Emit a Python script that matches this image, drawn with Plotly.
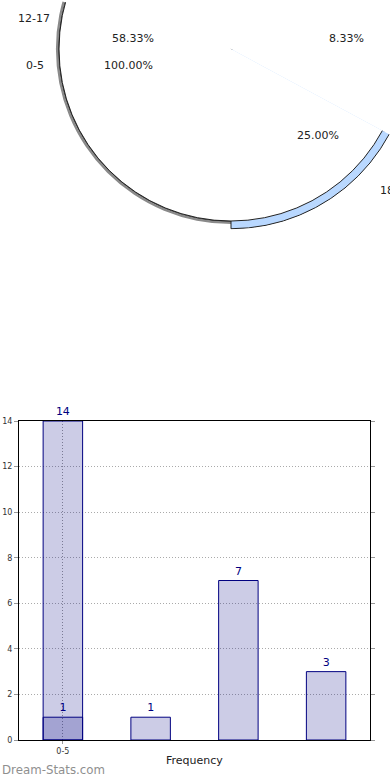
import numpy as np
import plotly.graph_objects as go

# ---------------- data ----------------
categories = ["0-5", "6-11", "12-17", "18+"]
series_a = [14, None, None, None]      # first series (only 0-5 present)
series_b = [1, 1, 7, 3]                # second series
y_ticks = [0, 2, 4, 6, 8, 10, 12, 14]
x_title = "Frequency"
y_title = "Distribution"
watermark = "Dream-Stats.com"

W, H = 390, 780


def pie_geometry(labels, values, start=0.0):
    """Slice centre angles / widths / percentages from the values."""
    labs = [l for l, v in zip(labels, values) if v]
    vals = np.array([v for v in values if v], dtype=float)
    widths = vals / vals.sum() * 360.0
    ends = start + np.cumsum(widths)
    mids = ends - widths / 2.0
    pct = vals / vals.sum() * 100.0
    return labs, mids, widths, pct


labs1, mid1, wid1, pct1 = pie_geometry(categories, series_a)
labs2, mid2, wid2, pct2 = pie_geometry(categories, series_b)


def px(x):
    return x / W


def py(y):
    return 1 - y / H


fig = go.Figure()

# ---------------- pie (polar, cropped by sector) ----------------
# thin shadow ring just outside the disc
fig.add_trace(go.Barpolar(
    base=[1.0] * len(mid1), r=[0.018] * len(mid1), theta=mid1, width=wid1,
    marker=dict(color="#8a8a8a", line=dict(width=0)),
    hoverinfo="skip", showlegend=False, subplot="polar"))

pull2 = [0, 0, 0, 0.045]
colors2 = ["white", "white", "white", "#b9d8ff"]
fig.add_trace(go.Barpolar(
    r=[1 + p for p in pull2], theta=mid2, width=wid2,
    marker=dict(color=colors2, line=dict(color="#222222", width=1)),
    text=labs2, hoverinfo="text", showlegend=False, subplot="polar"))

fig.add_trace(go.Barpolar(
    r=[1.0] * len(mid1), theta=mid1, width=wid1,
    marker=dict(color="white", line=dict(color="#222222", width=1)),
    text=labs1, hoverinfo="text", showlegend=False, subplot="polar"))

# ---------------- bar chart ----------------
bar_fill = "rgba(0,0,128,0.2)"
for vals in (series_a, series_b):
    fig.add_trace(go.Bar(
        x=categories, y=vals, width=0.45,
        marker=dict(color=bar_fill, line=dict(color="#000080", width=1)),
        texttemplate="%{y}", textposition="outside",
        textfont=dict(color="#000080", size=11, family="DejaVu Sans"),
        cliponaxis=False, showlegend=False, xaxis="x", yaxis="y"))

# ---------------- texts ----------------
lab_font = dict(family="DejaVu Sans", size=11, color="#222222")
annotations = []


def add_text(text, x, y, xanchor="center", angle=0):
    annotations.append(dict(text=text, x=px(x), y=py(y), xref="paper", yref="paper",
                            xanchor=xanchor, yanchor="middle", showarrow=False,
                            textangle=angle, font=lab_font))


# pie outside labels
add_text(labs2[2], 34, 18)
add_text(labs1[0], 35, 65)
add_text(labs2[3], 378, 190, xanchor="left")
# pie inside percentages
add_text(f"{pct2[2]:.2f}%", 133, 38)
add_text(f"{pct1[0]:.2f}%", 128.5, 65)
add_text(f"{pct2[0]:.2f}%", 346, 38)
add_text(f"{pct2[3]:.2f}%", 318, 135)
# axis titles
add_text(x_title, 194, 760)
add_text(y_title, -5, 581, angle=-90)

annotations.append(dict(text=watermark, x=0, y=py(770), xref="paper", yref="paper",
                        xanchor="left", yanchor="middle", showarrow=False,
                        font=dict(family="DejaVu Sans", size=11.8, color="#8f8f8f")))

# polar geometry: white disc radius 172 px, centre (231, 49), clipped by page top / right
r_disc = 172.0
cx, cy = 231.0, 49.0
r_max = 1.05
R_p = r_disc * r_max
a_start = 180.0 - np.degrees(np.arcsin(cy / R_p))
a_end = 360.0 - np.degrees(np.arccos((W - cx) / R_p))

grid_dash = "1px,2px"

fig.update_layout(
    width=W, height=H,
    margin=dict(l=0, r=0, t=0, b=0, autoexpand=False),
    paper_bgcolor="white", plot_bgcolor="white",
    barmode="overlay",
    font=dict(family="DejaVu Sans", color="#222222"),
    polar=dict(
        domain=dict(x=[px(cx - R_p), 1.0], y=[py(cy + R_p), 1.0]),
        sector=[a_start, a_end],
        bgcolor="rgba(0,0,0,0)",
        hole=0,
        barmode="overlay",
        radialaxis=dict(visible=False, range=[0, r_max]),
        angularaxis=dict(visible=False, direction="counterclockwise", rotation=0),
    ),
    xaxis=dict(
        domain=[px(19), px(370)], range=[-0.5, 3.5], automargin=False,
        tickmode="array", tickvals=[categories[0]], ticktext=[categories[0]],
        tickfont=dict(size=8, color="#333333"),
        ticks="outside", ticklen=3, tickcolor="#999999",
        showline=True, linecolor="black", linewidth=1, mirror=True,
        showgrid=True, gridcolor="#999999", griddash=grid_dash, gridwidth=1,
        zeroline=False,
    ),
    yaxis=dict(
        domain=[py(740), py(421)], range=[0, 14], automargin=False,
        tickmode="array", tickvals=y_ticks,
        tickfont=dict(size=8, color="#333333"),
        ticks="outside", ticklen=4, tickcolor="#999999",
        showline=True, linecolor="black", linewidth=1, mirror="ticks",
        showgrid=True, gridcolor="#aaaaaa", griddash=grid_dash, gridwidth=1,
        zeroline=False,
    ),
    annotations=annotations,
)

# the page itself should not add a margin around the 390x780 figure
fig.write_html("out.html", config={"displayModeBar": False},
               post_script="document.body.style.margin='0px';")
